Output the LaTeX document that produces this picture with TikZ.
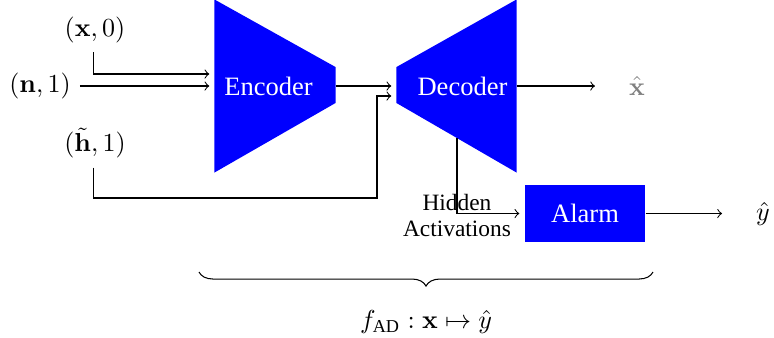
\documentclass[tikz,border=0pt]{standalone}
\usepackage{amsmath}
\usepackage[no-math]{fontspec}
\setmainfont{Liberation Serif}
\usetikzlibrary{calc,decorations.pathreplacing}
\begin{document}
\begin{tikzpicture}[x=0.3846pt,y=-0.3846pt, font=\fontsize{10}{12}\selectfont,
  conn/.style={->, shorten >=2pt},
  trapbox/.style={inner sep=0pt, minimum width=46.15pt, minimum height=66.15pt},
  lbl/.style={text=white, font=\fontsize{10.2}{12}\selectfont}]
\useasboundingbox (0,0) rectangle (774,337);
% encoder
\node[trapbox] (enc) at (275,86) {};
\fill[blue] (enc.north west) -- (enc.south west) -- ($(enc.east)+(0,17)$) -- ($(enc.east)+(0,-19)$) -- cycle;
\node[lbl] (enct) at (268.5,86) {Encoder};
% decoder
\node[trapbox, minimum width=45.77pt] (dec) at (456.5,86) {};
\fill[blue] (dec.north east) -- (dec.south east) -- ($(dec.west)+(0,17)$) -- ($(dec.west)+(0,-19)$) -- cycle;
\node[lbl] (dect) at (462.5,86) {Decoder};
% alarm
\node[lbl, fill=blue, minimum width=46.15pt, minimum height=21.9pt, inner sep=0pt] (alarm) at (585,213.5) {Alarm};
% labels
\node (x0) at (95,30) {$(\mathbf{x},0)$};
\node (n1) at (40,86) {$(\mathbf{n},1)$};
\node (h1) at (95,143) {$(\tilde{\mathbf{h}},1)$};
\node[text=gray] (xhat) at (637,86) {$\hat{\mathbf{x}}$};
\node (yhat) at (763,213.5) {$\hat{y}$};
% connectors
\draw[conn] ([xshift=-0.7pt]x0.south) |- ($(enc.west)+(0,-12)$);
\draw[conn] (n1.east) -- (n1.east -| enc.west);
\coordinate (hb) at (377,198);
\draw[conn] ([xshift=-0.7pt]h1.south) |- (hb) |- ($(dec.west)+(0,10)$);
\draw[conn] (enc.east) -- (dec.west);
\draw[conn, shorten >=9.6pt] (dec.east) -- (xhat);
\coordinate (tap) at (457,138);
\draw[conn] (tap) |- (alarm.west);
\node[align=center, font=\fontsize{9}{10}\selectfont] (hid) at (457,215) {Hidden\\Activations};
\draw[conn, shorten >=9.6pt] (alarm.east) -- (yhat);
% brace
\coordinate (b1) at (199,272);
\coordinate (b2) at (653,272);
\draw[decorate, decoration={brace, mirror, amplitude=5.4pt}] (b1) -- (b2);
\node (fad) at (426,322) {$f_{\text{AD}} : \mathbf{x} \mapsto \hat{y}$};
\end{tikzpicture}
\end{document}
